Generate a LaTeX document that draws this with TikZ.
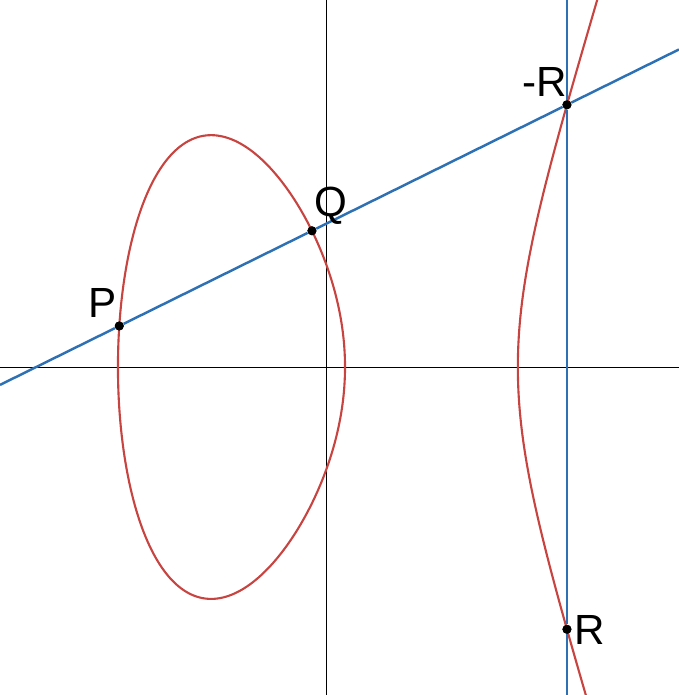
\documentclass[tikz,border=0pt]{standalone}
\usepackage{fontspec}
\setmainfont{Liberation Sans}
\usetikzlibrary{positioning}
\definecolor{curvered}{HTML}{C74440}
\definecolor{lineblue}{HTML}{2D70B3}
\tikzset{
  mydot/.style={fill=black, circle, minimum size=1.8mm, inner sep=0mm
  },
  mylabel/.style={font=\fontsize{24}{26}\selectfont, inner sep=0mm
  },
  curve/.style={curvered, line width=1.2pt
  },
  secant/.style={lineblue, line width=1.4pt
  }
}

\begin{document}
\begin{tikzpicture}[x=1.794cm, y=2.014cm]
  \useasboundingbox (-3.645,-3.257) rectangle (3.924,3.645);
  \clip (-3.645,-3.257) rectangle (3.924,3.645);

  % axes
  \draw[black, line width=0.55pt] (-3.645,0) -- (3.924,0);
  \draw[black, line width=0.55pt] (0,-3.257) -- (0,3.645);

  % y^2 = x^3 - 5x + 1
  \draw[curve] plot[domain=0:360, samples=240, variable=\t]
    ({-1.06421-1.26585*cos(\t)}, {1.26585*sin(\t)*sqrt(3.19263+1.26585*cos(\t))});
  \draw[curve] plot[domain=-0.97:0.97, samples=160, variable=\s]
    ({2.12842+\s*\s}, {\s*sqrt((4.45848+\s*\s)*(1.92678+\s*\s))});

  % points
  \node[mydot] (p) at (-2.3153, 0.4077) {};
  \node[mydot] (q) at (-0.167, 1.3532) {};
  \node[mydot] (mr) at (2.676, 2.6044) {};
  \node[mydot] (r) at (2.676, -2.6044) {};

  \coordinate (ls) at (-3.645, -0.1775);
  \coordinate (le) at (3.924, 3.1537);
  \coordinate (vt) at (2.676, 3.645);
  \coordinate (vb) at (2.676, -3.257);

  \draw[secant] (ls) -- (p) -- (q) -- (mr) -- (le);
  \draw[secant] (vt) -- (mr) -- (r) -- (vb);

  \node[mydot] at (p) {};
  \node[mydot] at (q) {};
  \node[mydot] at (mr) {};
  \node[mydot] at (r) {};

  % labels
  \node[mylabel] (lp) at (-2.498, 0.636) {P};
  \node[mylabel] (lq) at (0.045, 1.599) {Q};
  \node[mylabel] (lmr) at (2.43, 2.831) {-R};
  \node[mylabel] (lr) at (2.932, -2.612) {R};
\end{tikzpicture}
\end{document}
